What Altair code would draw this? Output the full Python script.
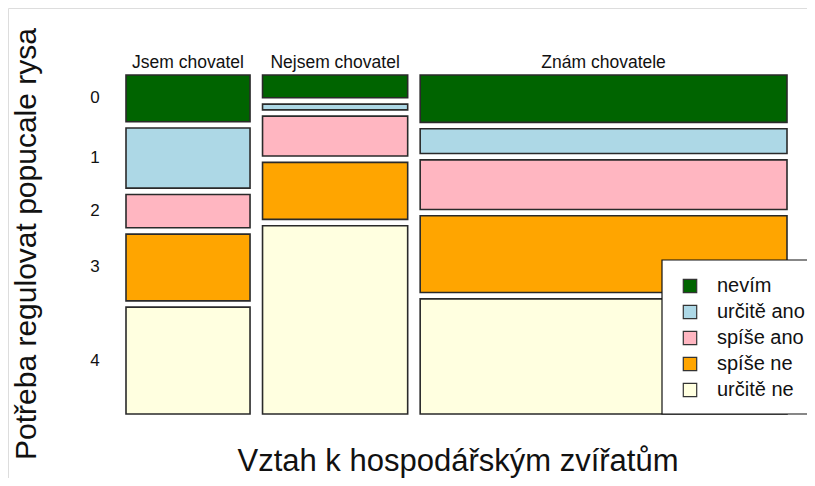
import altair as alt
import pandas as pd

# ---- data ----
groups = ["Jsem chovatel", "Nejsem chovatel", "Znám chovatele"]
levels = ["0", "1", "2", "3", "4"]
answers = ["nevím", "určitě ano", "spíše ano", "spíše ne", "určitě ne"]
counts_jsem = [7, 9, 5, 10, 16]
counts_nejsem = [4, 1, 7, 10, 33]
counts_znam = [21, 11, 22, 34, 51]
colors = ["#006400", "#ADD8E6", "#FFB6C1", "#FFA500", "#FFFFE0"]

x_title = "Vztah k hospodářským zvířatům"
y_title = "Potřeba regulovat popucale rysa"

# ---- layout constants ----
GX = 12.5 / 661.0   # horizontal gap between columns (fraction of plot width)
GY = 6.3 / 339.0    # vertical gap between tiles (fraction of plot height)

all_counts = [counts_jsem, counts_nejsem, counts_znam]
N = sum(sum(c) for c in all_counts)
rows = []
xcur = 0.0
wshare = 1.0 - GX * (len(groups) - 1)
hshare = 1.0 - GY * (len(levels) - 1)
for g, cnts in zip(groups, all_counts):
    n = sum(cnts)
    w = n / N * wshare
    ycur = 0.0
    for lev, ans, c in zip(levels, answers, cnts):
        h = c / n * hshare
        rows.append(dict(group=g, level=lev, answer=ans, count=c,
                         x0=xcur, x1=xcur + w, y0=ycur, y1=ycur + h,
                         xc=xcur + w / 2, yc=ycur + h / 2))
        ycur += h + GY
    xcur += w + GX
tiles = pd.DataFrame(rows)
col_labels = tiles.groupby("group", sort=False)["xc"].first().reset_index()
first_col = tiles[tiles["group"] == groups[0]]
legend_df = pd.DataFrame({"answer": answers, "idx": list(range(len(answers)))})
box_df = pd.DataFrame({"k": [0]})

xs = alt.Scale(domain=[0, 1], range=[118, 779], nice=False, zero=False)
ys = alt.Scale(domain=[0, 1], range=[67, 406], nice=False, zero=False)
cs = alt.Scale(domain=answers, range=colors)
FONT = "Liberation Sans"

tile_layer = alt.Chart(tiles).mark_rect(stroke="#2a2a2a", strokeWidth=1.6).encode(
    x=alt.X("x0:Q", scale=xs, axis=None),
    x2="x1:Q",
    y=alt.Y("y0:Q", scale=ys, axis=None),
    y2="y1:Q",
    fill=alt.Fill("answer:N", scale=cs, legend=None),
)

col_text = alt.Chart(col_labels).mark_text(
    font=FONT, fontSize=17.5, baseline="alphabetic", align="center", color="#111"
).encode(
    x=alt.X("xc:Q", scale=xs, axis=None),
    y=alt.value(60),
    text="group:N",
)

tick_text = alt.Chart(first_col).mark_text(
    font=FONT, fontSize=17, baseline="middle", align="center", color="#111"
).encode(
    x=alt.value(87),
    y=alt.Y("yc:Q", scale=ys, axis=None),
    text="level:N",
)

xt = alt.Chart(box_df).mark_text(
    font=FONT, fontSize=31, baseline="alphabetic", align="center", color="#111",
    text=x_title,
).encode(x=alt.value(450), y=alt.value(463))

yt = alt.Chart(box_df).mark_text(
    font=FONT, fontSize=30, baseline="alphabetic", align="center", color="#111",
    angle=270, text=y_title,
).encode(x=alt.value(28), y=alt.value(236))

legend_box = alt.Chart(box_df).mark_rect(
    fill="white", stroke="#111", strokeWidth=1.2
).encode(
    x=alt.value(654), x2=alt.value(840), y=alt.value(252), y2=alt.value(406)
)

ly = alt.Scale(domain=[0, 4], range=[278, 382], nice=False, zero=False)
legend_sq = alt.Chart(legend_df).mark_square(
    size=180, stroke="#333", strokeWidth=1.2, opacity=1
).encode(
    x=alt.value(682),
    y=alt.Y("idx:Q", scale=ly, axis=None),
    fill=alt.Fill("answer:N", scale=cs, legend=None),
)
legend_txt = alt.Chart(legend_df).mark_text(
    font=FONT, fontSize=20, baseline="middle", align="left", color="#111"
).encode(
    x=alt.value(709),
    y=alt.Y("idx:Q", scale=ly, axis=None),
    text="answer:N",
)

chart = alt.layer(
    tile_layer, col_text, tick_text, xt, yt, legend_box, legend_sq, legend_txt
).resolve_scale(
    x="independent", y="independent", fill="independent"
).properties(
    width=799, height=470,
    autosize=alt.AutoSizeParams(type="none"),
    padding=0,
).configure_view(stroke=None).configure(background="white")

chart.save("out.html", embed_options={"renderer": "svg", "actions": False})
